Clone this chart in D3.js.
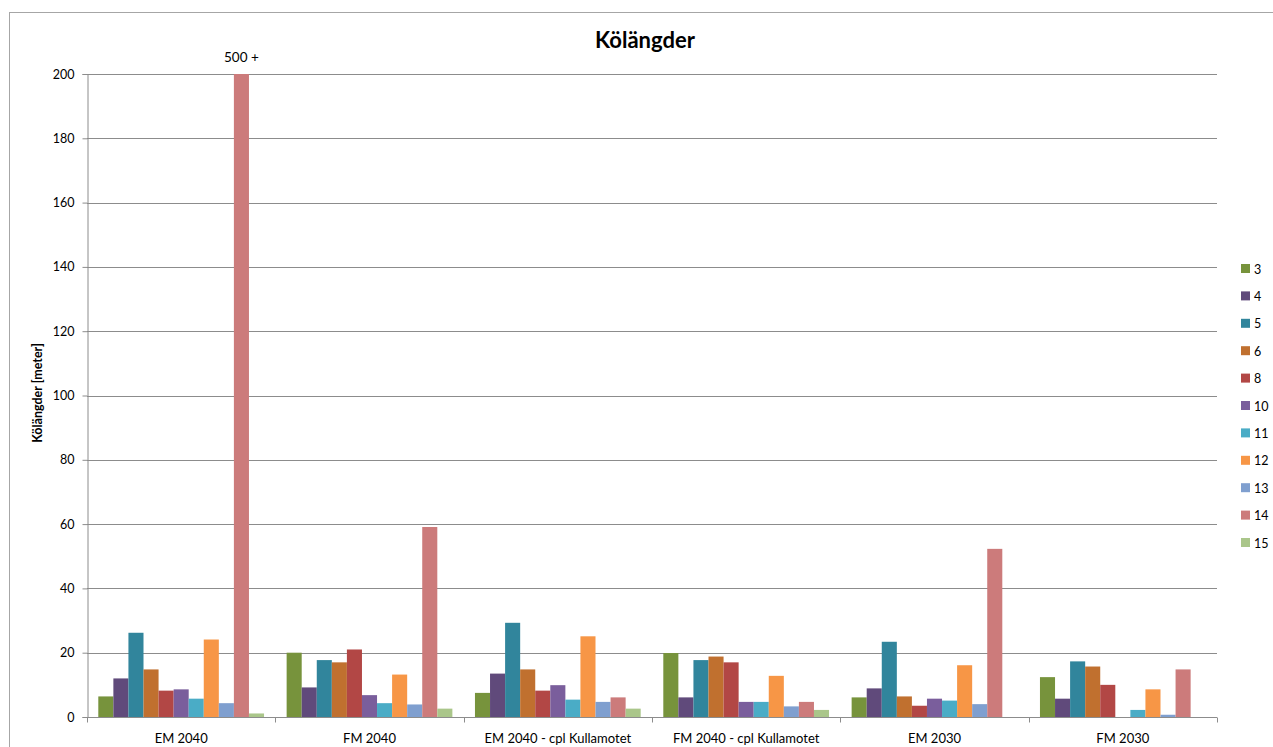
<!DOCTYPE html>
<html><head><meta charset="utf-8">
<script src="https://cdn.jsdelivr.net/npm/d3@7"></script>
<style>
html,body{margin:0;padding:0;background:#fff;}
svg{display:block;font-family:Lato,"Open Sans",sans-serif;}
</style></head>
<body><svg id="chart" width="1273" height="747"></svg>
<script>
const categories = ["EM 2040","FM 2040","EM 2040 - cpl Kullamotet","FM 2040 - cpl Kullamotet","EM 2030","FM 2030"];
const seriesNames = ["3","4","5","6","8","10","11","12","13","14","15"];
const colors = ["#77933c","#604a7b","#31859c","#c0702f","#b24745","#7a5e9c","#4aacc6","#f79646","#7f9fcf","#cc7b7b","#aac68a"];
// values per series, one per category
const s3  = [6.4, 20.0, 7.5, 19.9, 6.1, 12.4];
const s4  = [12.0, 9.2, 13.5, 6.1, 8.9, 5.7];
const s5  = [26.2, 17.7, 29.3, 17.7, 23.4, 17.3];
const s6  = [14.8, 17.0, 14.8, 18.8, 6.4, 15.7];
const s8  = [8.2, 21.0, 8.2, 17.0, 3.5, 10.0];
const s10 = [8.6, 6.8, 9.9, 4.7, 5.7, 0];
const s11 = [5.7, 4.3, 5.4, 4.7, 5.1, 2.2];
const s12 = [24.1, 13.2, 25.1, 12.8, 16.1, 8.6];
const s13 = [4.3, 3.9, 4.7, 3.3, 4.0, 0.7];
const s14 = [500, 59.1, 6.1, 4.7, 52.3, 14.8];
const s15 = [1.1, 2.6, 2.6, 2.2, 0, 0];
const seriesValues = [s3,s4,s5,s6,s8,s10,s11,s12,s13,s14,s15];
const yTicks = [0,20,40,60,80,100,120,140,160,180,200];
const overflowLabel = "500 +";

const svg = d3.select("#chart");
const pLeft = 87, pRight = 1217, pTop = 74, pBottom = 717;
const grey = "#8c8c8c";

// outer border
svg.append("rect").attr("x",9.5).attr("y",12.5).attr("width",1300).attr("height",800)
  .attr("fill","none").attr("stroke","#a6a6a6").attr("stroke-width",1);

const x0 = d3.scaleBand().domain(categories).range([pLeft,pRight]).paddingInner(0).paddingOuter(0);
const inner = 11/12.5;
const x1 = d3.scaleBand().domain(seriesNames).range([0, x0.bandwidth()*inner]).padding(0);
const y = d3.scaleLinear().domain([0,200]).range([pBottom,pTop]);

// gridlines
svg.append("g").selectAll("line").data(yTicks.filter(d=>d>0)).join("line")
  .attr("x1",pLeft).attr("x2",pRight)
  .attr("y1",d=>Math.round(y(d))+0.5).attr("y2",d=>Math.round(y(d))+0.5)
  .attr("stroke",grey).attr("stroke-width",1);

// y axis
const yAxis = svg.append("g").attr("transform",`translate(${pLeft+0.5},0)`)
  .call(d3.axisLeft(y).tickValues(yTicks).tickSize(5).tickPadding(8));
yAxis.select(".domain").attr("stroke",grey);
yAxis.selectAll(".tick line").attr("stroke",grey);
yAxis.selectAll(".tick text").attr("font-size","12.5px").attr("fill","#000").attr("font-family","Lato, 'Open Sans', sans-serif");

// bars
const groups = svg.append("g").selectAll("g").data(categories).join("g")
  .attr("transform",c=>`translate(${x0(c)+x0.bandwidth()*(1-inner)/2},0)`);
groups.selectAll("rect").data((c,ci)=>seriesNames.map((s,si)=>({s,si,v:seriesValues[si][ci]})))
  .join("rect")
  .attr("x",d=>x1(d.s)).attr("width",x1.bandwidth())
  .attr("y",d=>y(Math.min(d.v,200))).attr("height",d=>pBottom-y(Math.min(d.v,200)))
  .attr("fill",d=>colors[d.si]);

// overflow label
const catOver = 0, serOver = seriesValues.findIndex(a=>a[0]>200);
svg.append("text")
  .attr("x", x0(categories[catOver])+x0.bandwidth()*(1-inner)/2 + x1(seriesNames[serOver]) + x1.bandwidth()/2)
  .attr("y", pTop-12).attr("text-anchor","middle").attr("font-size","13.5px").attr("fill","#000")
  .text(overflowLabel);

// x axis
const xAxis = svg.append("g").attr("transform",`translate(0,${pBottom+0.5})`);
xAxis.append("line").attr("x1",pLeft).attr("x2",pRight).attr("stroke",grey);
const bounds = categories.map(c=>x0(c)).concat([pRight]);
xAxis.selectAll("line.tk").data(bounds).join("line").attr("class","tk")
  .attr("x1",d=>Math.round(d)+0.5).attr("x2",d=>Math.round(d)+0.5).attr("y1",0).attr("y2",5).attr("stroke",grey);
xAxis.selectAll("text").data(categories).join("text")
  .attr("x",c=>x0(c)+x0.bandwidth()/2).attr("y",25).attr("text-anchor","middle")
  .attr("font-size","13px").attr("fill","#000").text(c=>c);

// title
svg.append("text").attr("x",645).attr("y",48).attr("text-anchor","middle")
  .attr("font-size","22px").attr("font-weight","bold").attr("fill","#000").text("Kölängder");

// y title
svg.append("text").attr("transform","translate(42,393) rotate(-90)").attr("text-anchor","middle")
  .attr("font-size","12.5px").attr("font-weight","bold").attr("fill","#000").text("Kölängder [meter]");

// legend
const lg = svg.append("g").selectAll("g").data(seriesNames).join("g")
  .attr("transform",(d,i)=>`translate(1241,${269+i*27.4})`);
lg.append("rect").attr("x",0).attr("y",-5).attr("width",9).attr("height",9).attr("fill",(d,i)=>colors[i]);
lg.append("text").attr("x",13).attr("y",4.5).attr("font-size","12.5px").attr("fill","#000").text(d=>d);
</script></body></html>
